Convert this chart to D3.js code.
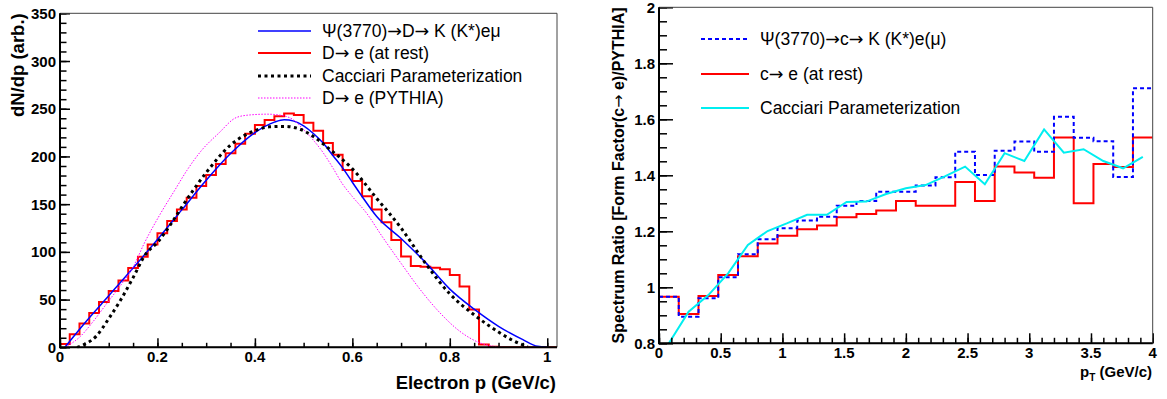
<!DOCTYPE html>
<html>
<head>
<meta charset="utf-8">
<script src="https://cdn.jsdelivr.net/npm/d3@7"></script>
<style>
  body { margin: 0; background: #fff; }
  svg { font-family: "Liberation Sans", Arial, Helvetica, sans-serif; }
  .tick-label { font-weight: bold; font-size: 15px; fill: #000; }
  .title { font-weight: bold; fill: #000; }
  .legend { font-size: 17.5px; fill: #000; }
  .arrow { font-family: "DejaVu Sans", sans-serif; font-weight: normal; }
</style>
</head>
<body>
<script>

// ---------- Left panel data: electron momentum spectra ----------
const atRestBinWidth = 0.02;
// D -> e (at rest), histogram contents per 0.02 GeV/c bin starting at 0
const atRestCounts = [
  3.5, 13.8, 25, 36, 47.5, 59, 70, 83, 95, 107.7,
  119.5, 132.3, 144.3, 156.7, 169, 180.5, 192, 203.3, 213.4, 223.8,
  233, 238.3, 242.2, 245, 243.4, 235.4, 227, 214, 201.8, 185.8,
  174.3, 158.3, 144.4, 131, 112.4, 95.2, 85.2, 84.5, 83.4, 81.7,
  75.8, 63.7, 39.5, 3, 0.5, 0, 0, 0, 0, 0, 0
];

// Psi(3770) -> D -> K (K*) e mu, smooth curve [p, dN/dp]
const psiCurve = [
  [0.01, 0], [0.05, 25], [0.10, 54], [0.15, 83], [0.20, 113], [0.25, 144],
  [0.30, 175], [0.35, 203], [0.40, 225], [0.44, 236], [0.46, 238.5], [0.48, 237],
  [0.50, 232], [0.52, 224], [0.54, 214], [0.56, 201], [0.58, 188], [0.60, 173],
  [0.62, 158], [0.65, 137], [0.70, 114], [0.75, 89], [0.80, 61], [0.85, 40],
  [0.90, 22], [0.95, 8], [0.98, 1], [1.0, 0]
];

// Cacciari parameterization
const cacciariCurve = [
  [0.035, 0], [0.05, 3], [0.075, 12], [0.10, 30], [0.125, 50], [0.15, 73],
  [0.175, 97], [0.20, 110], [0.23, 131], [0.25, 147], [0.30, 183], [0.35, 212],
  [0.40, 227], [0.43, 231], [0.46, 231.5], [0.49, 229], [0.52, 221], [0.55, 209],
  [0.60, 187], [0.65, 156], [0.70, 125], [0.75, 88], [0.80, 56], [0.85, 34],
  [0.90, 16], [0.93, 7], [0.96, 0.5]
];

// D -> e (PYTHIA)
const pythiaCurve = [
  [0.01, 0], [0.041, 11], [0.068, 27], [0.096, 46], [0.123, 64], [0.151, 85],
  [0.172, 108], [0.205, 139], [0.236, 165], [0.26, 185], [0.29, 206], [0.325, 224],
  [0.363, 241], [0.39, 243.5], [0.425, 244.3], [0.455, 243], [0.48, 238], [0.50, 228],
  [0.52, 217], [0.54, 204], [0.56, 188], [0.58, 171], [0.60, 158], [0.63, 140],
  [0.66, 117], [0.70, 88], [0.74, 60], [0.78, 36], [0.82, 17], [0.86, 5],
  [0.89, 1], [0.91, 0]
];

const leftLegend = [
  "\u03A8(3770)\u2192D\u2192 K (K*)e\u03BC",
  "D\u2192 e (at rest)",
  "Cacciari Parameterization",
  "D\u2192 e (PYTHIA)"
];
const leftYTicks = [0, 50, 100, 150, 200, 250, 300, 350];
const leftXTicks = [0, 0.2, 0.4, 0.6, 0.8, 1];

// ---------- Right panel data: spectrum ratios ----------
const ratioBinWidth = 0.16;
// Psi(3770) -> c -> K (K*) e(mu)
const ratioPsi = [
  0.966, 0.895, 0.961, 1.036, 1.118, 1.172, 1.211, 1.239, 1.252, 1.291,
  1.308, 1.341, 1.341, 1.364, 1.393, 1.484, 1.401, 1.488, 1.521, 1.484,
  1.609, 1.534, 1.522, 1.394, 1.711
];
// c -> e (at rest)
const ratioAtRest = [
  0.966, 0.905, 0.969, 1.044, 1.111, 1.156, 1.184, 1.207, 1.221, 1.250,
  1.262, 1.274, 1.308, 1.291, 1.291, 1.376, 1.308, 1.431, 1.410, 1.391,
  1.535, 1.300, 1.440, 1.430, 1.535
];
// Cacciari parameterization (drawn through bin centres)
const ratioCacciari = [
  0.80, 0.913, 0.972, 1.05, 1.151, 1.201, 1.229, 1.259, 1.259, 1.305,
  1.306, 1.333, 1.354, 1.365, 1.397, 1.431, 1.368, 1.479, 1.451, 1.564,
  1.481, 1.493, 1.451, 1.425, 1.466
];

const rightLegend = [
  "\u03A8(3770)\u2192c\u2192 K (K*)e(\u03BC)",
  "c\u2192 e (at rest)",
  "Cacciari Parameterization"
];
const rightYTicks = [0.8, 1, 1.2, 1.4, 1.6, 1.8, 2];
const rightXTicks = [0, 0.5, 1, 1.5, 2, 2.5, 3, 3.5, 4];

// ---------- SVG ----------
const w = 1167;
const h = 399;

const svg = d3.select("body")
  .append("svg")
  .attr("width", w)
  .attr("height", h);

// frames
const L = { x0: 60, x1: 557, y0: 13.3, y1: 347.3 };
const R = { x0: 659, x1: 1152.7, y0: 7.3, y1: 343.3 };

const xL = d3.scaleLinear().domain([0, 1.02]).range([L.x0, L.x1]);
const yL = d3.scaleLinear().domain([0, 350]).range([L.y1, L.y0]);
const xR = d3.scaleLinear().domain([0, 4]).range([R.x0, R.x1]);
const yR = d3.scaleLinear().domain([0.8, 2]).range([R.y1, R.y0]);

// clip paths
const defs = svg.append("defs");
defs.append("clipPath").attr("id", "clipL")
  .append("rect")
  .attr("x", L.x0).attr("y", L.y0)
  .attr("width", L.x1 - L.x0).attr("height", L.y1 - L.y0 + 1);
defs.append("clipPath").attr("id", "clipR")
  .append("rect")
  .attr("x", R.x0).attr("y", R.y0)
  .attr("width", R.x1 - R.x0).attr("height", R.y1 - R.y0);

// histogram -> step points
function steps(values, width) {
  const pts = [];
  values.forEach((v, i) => {
    pts.push([i * width, v]);
    pts.push([(i + 1) * width, v]);
  });
  return pts;
}

// write a label, arrows get their own tspan (longer glyph, like ROOT's symbol font)
function richText(sel, label) {
  label.split(/(\u2192)/).forEach(part => {
    if (part === "") return;
    const t = sel.append("tspan").text(part);
    if (part === "\u2192") t.attr("class", "arrow");
  });
  return sel;
}

// ROOT-like axes: ticks pointing inside the frame
function drawAxes(frame, x, y, xMajor, xMinor, yMajor, yMinor, tk) {
  const g = svg.append("g");

  g.append("g")
    .attr("transform", `translate(0, ${frame.y1})`)
    .call(d3.axisBottom(x).tickValues(xMinor).tickSize(-tk.xMinor).tickFormat(""))
    .call(a => a.select(".domain").remove());
  g.append("g")
    .attr("transform", `translate(0, ${frame.y1})`)
    .call(d3.axisBottom(x).tickValues(xMajor).tickSize(-tk.xMajor).tickFormat(""))
    .call(a => a.select(".domain").remove());
  g.append("g")
    .attr("transform", `translate(${frame.x0}, 0)`)
    .call(d3.axisLeft(y).tickValues(yMinor).tickSize(-tk.yMinor).tickFormat(""))
    .call(a => a.select(".domain").remove());
  g.append("g")
    .attr("transform", `translate(${frame.x0}, 0)`)
    .call(d3.axisLeft(y).tickValues(yMajor).tickSize(-tk.yMajor).tickFormat(""))
    .call(a => a.select(".domain").remove());

  g.selectAll(".tick line").attr("stroke", "#000").attr("stroke-width", 1.5);

  // frame
  g.append("path")
    .attr("d", `M${frame.x0},${frame.y1}H${frame.x1}V${frame.y0}H${frame.x0}Z`)
    .attr("fill", "none")
    .attr("stroke", "#444")
    .attr("stroke-width", 1);
  g.append("path")
    .attr("d", `M${frame.x0},${frame.y0}V${frame.y1}H${frame.x1}`)
    .attr("fill", "none")
    .attr("stroke", "#000")
    .attr("stroke-width", 2);
}

const lineXY = (x, y) => d3.line().x(d => x(d[0])).y(d => y(d[1]));

// ================= LEFT PANEL =================
const gL = svg.append("g").attr("clip-path", "url(#clipL)");
const lineL = lineXY(xL, yL);
const smoothL = d3.line().x(d => xL(d[0])).y(d => yL(d[1])).curve(d3.curveMonotoneX);

gL.append("path")
  .datum(steps(atRestCounts, atRestBinWidth))
  .attr("d", lineL)
  .attr("fill", "none")
  .attr("stroke", "#ff0000")
  .attr("stroke-width", 2);

gL.append("path")
  .datum(psiCurve)
  .attr("d", smoothL)
  .attr("fill", "none")
  .attr("stroke", "#0000ff")
  .attr("stroke-width", 1.5);

gL.append("path")
  .datum(pythiaCurve)
  .attr("d", smoothL)
  .attr("fill", "none")
  .attr("stroke", "#ff00ff")
  .attr("stroke-width", 1)
  .attr("stroke-dasharray", "1.5,1.5");

gL.append("path")
  .datum(cacciariCurve)
  .attr("d", smoothL)
  .attr("fill", "none")
  .attr("stroke", "#000")
  .attr("stroke-width", 3)
  .attr("stroke-dasharray", "3,3.5");

drawAxes(L, xL, yL,
  leftXTicks, d3.range(0, 1.0001, 0.05),
  leftYTicks, d3.range(0, 350.01, 10),
  { xMajor: 9, xMinor: 4.5, yMajor: 10, yMinor: 6.5 });

// tick labels
svg.append("g").selectAll("text")
  .data(leftYTicks)
  .join("text")
  .attr("class", "tick-label")
  .attr("x", 56)
  .attr("y", d => yL(d) + 5.5)
  .attr("text-anchor", "end")
  .text(d => d);

svg.append("g").selectAll("text")
  .data(leftXTicks)
  .join("text")
  .attr("class", "tick-label")
  .attr("x", d => xL(d))
  .attr("y", 361.5)
  .attr("text-anchor", "middle")
  .text(d => d);

// axis titles
svg.append("text")
  .attr("class", "title")
  .attr("x", 556)
  .attr("y", 389)
  .attr("text-anchor", "end")
  .style("font-size", "18.5px")
  .text("Electron p (GeV/c)");

svg.append("text")
  .attr("class", "title")
  .attr("transform", "translate(24, 13.3) rotate(-90)")
  .attr("text-anchor", "end")
  .style("font-size", "18.5px")
  .text("dN/dp (arb.)");

// legend
const leftLegendStyle = [
  { stroke: "#0000ff", width: 1.5, dash: null },
  { stroke: "#ff0000", width: 2, dash: null },
  { stroke: "#000", width: 3, dash: "3,3.5" },
  { stroke: "#ff00ff", width: 1, dash: "1.5,1.5" }
];
const leftLegendY = [31, 53, 76, 98];

leftLegend.forEach((label, i) => {
  const s = leftLegendStyle[i];
  svg.append("line")
    .attr("x1", 258).attr("x2", 311)
    .attr("y1", leftLegendY[i]).attr("y2", leftLegendY[i])
    .attr("stroke", s.stroke)
    .attr("stroke-width", s.width)
    .attr("stroke-dasharray", s.dash);
  richText(svg.append("text")
    .attr("class", "legend")
    .attr("x", 322)
    .attr("y", leftLegendY[i] + 6), label);
});

// ================= RIGHT PANEL =================
const gR = svg.append("g").attr("clip-path", "url(#clipR)");
const lineR = lineXY(xR, yR);

gR.append("path")
  .datum(steps(ratioAtRest, ratioBinWidth))
  .attr("d", lineR)
  .attr("fill", "none")
  .attr("stroke", "#ff0000")
  .attr("stroke-width", 2);

gR.append("path")
  .datum(steps(ratioPsi, ratioBinWidth))
  .attr("d", lineR)
  .attr("fill", "none")
  .attr("stroke", "#0000ff")
  .attr("stroke-width", 2)
  .attr("stroke-dasharray", "4,3");

gR.append("path")
  .datum(ratioCacciari.map((v, i) => [(i + 0.5) * ratioBinWidth, v]))
  .attr("d", lineR)
  .attr("fill", "none")
  .attr("stroke", "#00eef0")
  .attr("stroke-width", 2);

drawAxes(R, xR, yR,
  rightXTicks, d3.range(0, 4.0001, 0.1),
  rightYTicks, d3.range(0.8, 2.0001, 0.05),
  { xMajor: 10, xMinor: 5.5, yMajor: 14, yMinor: 8 });

svg.append("g").selectAll("text")
  .data(rightYTicks)
  .join("text")
  .attr("class", "tick-label")
  .attr("x", 655)
  .attr("y", d => yR(d) + 5.5)
  .attr("text-anchor", "end")
  .text(d => d);

svg.append("g").selectAll("text")
  .data(rightXTicks)
  .join("text")
  .attr("class", "tick-label")
  .attr("x", d => xR(d))
  .attr("y", 357.5)
  .attr("text-anchor", "middle")
  .text(d => d);

// axis titles
const xt = svg.append("text")
  .attr("class", "title")
  .attr("x", 1152)
  .attr("y", 377)
  .attr("text-anchor", "end")
  .style("font-size", "15px");
xt.append("tspan").text("p");
xt.append("tspan").attr("dy", 4).style("font-size", "10px").text("T");
xt.append("tspan").attr("dy", -4).text(" (GeV/c)");

richText(svg.append("text")
  .attr("class", "title")
  .attr("transform", "translate(624, 7.3) rotate(-90)")
  .attr("text-anchor", "end")
  .style("font-size", "16px"), "Spectrum Ratio [Form Factor(c\u2192 e)/PYTHIA]");

// legend
const rightLegendStyle = [
  { stroke: "#0000ff", width: 2, dash: "4,3" },
  { stroke: "#ff0000", width: 2, dash: null },
  { stroke: "#00eef0", width: 2, dash: null }
];
const rightLegendY = [39, 74, 108];

rightLegend.forEach((label, i) => {
  const s = rightLegendStyle[i];
  svg.append("line")
    .attr("x1", 701).attr("x2", 749)
    .attr("y1", rightLegendY[i]).attr("y2", rightLegendY[i])
    .attr("stroke", s.stroke)
    .attr("stroke-width", s.width)
    .attr("stroke-dasharray", s.dash);
  richText(svg.append("text")
    .attr("class", "legend")
    .attr("x", 760)
    .attr("y", rightLegendY[i] + 6), label);
});

</script>
</body>
</html>
